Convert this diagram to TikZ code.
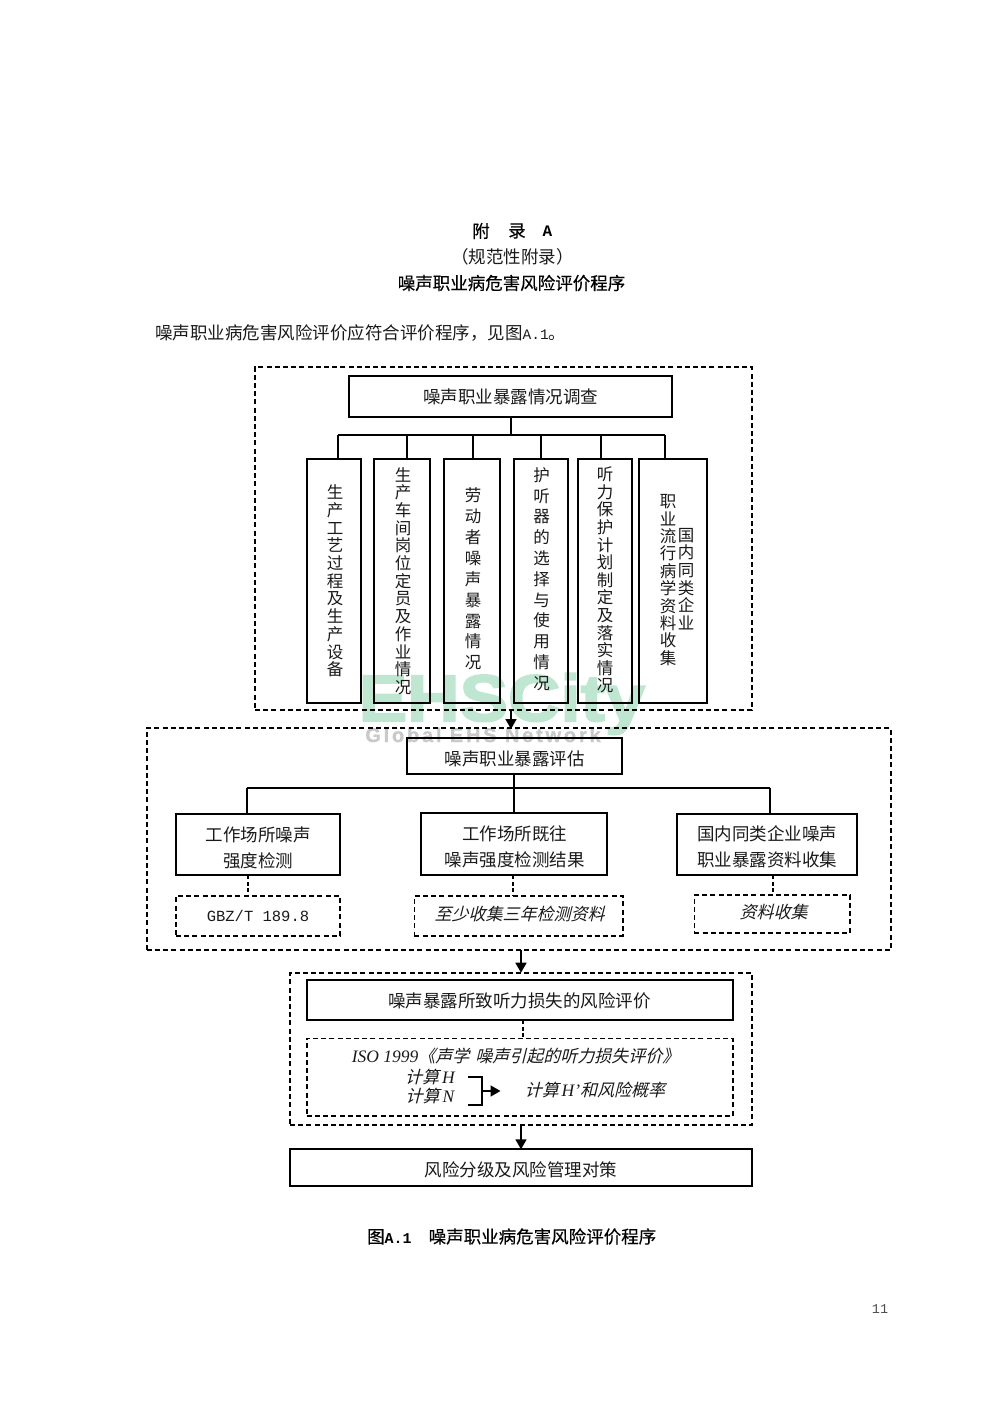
\documentclass[tikz,border=0pt]{standalone}
\usepackage{fontspec}
\usetikzlibrary{arrows.meta}
\setmainfont{Liberation Serif}
\newfontfamily\cjk{Noto Sans CJK SC}
\newfontfamily\cjkslant[FakeSlant=0.25]{Noto Sans CJK SC}
\newfontfamily\cjkbold[FakeBold=0.35]{Noto Sans CJK SC}
\newfontfamily\monof{Liberation Mono}
\newfontfamily\monob{Liberation Mono Bold}
\newfontfamily\markf[LetterSpace=14,FakeBold=1]{Liberation Sans Bold}
\newfontfamily\markg[FakeBold=2.5]{Liberation Sans Bold}
\definecolor{wmgreen}{HTML}{BFE6D0}
\definecolor{wmgrey}{HTML}{C9C9C9}
\definecolor{ink}{HTML}{1A1A1A}
\newcommand{\fs}[2]{\fontsize{#1}{#2}\selectfont}
\begin{document}
\begin{tikzpicture}[x=1pt,y=-1pt,
  box/.style={draw=black,line width=1.8pt,inner sep=0pt,anchor=center,align=center,text=ink,font={\cjk\fs{17.5}{26}}},
  dbox/.style={draw=black,line width=1.6pt,dash pattern=on 5pt off 3.2pt,inner sep=0pt,anchor=center,align=center},
  wire/.style={draw=black,line width=1.7pt},
  dwire/.style={draw=black,line width=1.7pt,dash pattern=on 4pt off 2.5pt},
  flow/.style={draw=black,line width=1.7pt,-{Triangle[length=10pt,width=11pt]}},
  label/.style={inner sep=0pt,anchor=center,align=center,text=ink,font={\cjk\fs{17.5}{26}}},
  slant/.style={inner sep=0pt,anchor=center,align=center,text=ink,font={\cjkslant\fs{17}{20}}},
  head/.style={inner sep=0pt,anchor=center,align=center,text=black,font={\cjkbold\fs{17.5}{20}}},
  vert/.style={inner sep=0pt,anchor=center,align=center,text=ink,font={\cjk\fs{16.5}{#1}}}
]
\useasboundingbox (0,0) rectangle (1000,1414);
\fill[white] (0,0) rectangle (1000,1414);

% watermark
\node[inner sep=0pt,anchor=base,text=wmgreen,xscale=1.1] (wma) at (502,721) {\markg\fs{66}{66}EHSCity};
\node[inner sep=0pt,anchor=base,text=wmgrey] (wmb) at (483,742) {\markf\fs{20}{20}Global EHS Network};

% headings
\node[head] (t1a) at (481,231) {附};
\node[head] (t1b) at (517,231) {录};
\node[inner sep=0pt,anchor=center,text=black] (t1c) at (547.5,231) {\monob\fs{16}{20}A};
\node[label] (t2) at (512.5,257) {\symbol{"FF08}规范性附录\symbol{"FF09}};
\node[head] (t3) at (511.5,283) {噪声职业病危害风险评价程序};
\node[label,anchor=west] (t4) at (155,333) {噪声职业病危害风险评价应符合评价程序\symbol{"FF0C}见图{\monof\fs{14.5}{20}A.1}。};

% dashed groups
\node[dbox,minimum width=496.7pt,minimum height=343.3pt] (g1) at (503.35,538.35) {};
\node[dbox,minimum width=744pt,minimum height=222pt] (g2) at (518.85,839) {};
\node[dbox,minimum width=461.7pt,minimum height=152.3pt] (g3) at (520.85,1048.85) {};

% survey
\node[box,minimum width=323.3pt,minimum height=40.7pt] (top) at (510.65,396.35) {};
\node[label] (topt) at (510.65,397) {噪声职业暴露情况调查};
\node[box,minimum width=54pt,minimum height=244.6pt] (s1) at (333.7,581) {};
\node[box,minimum width=56pt,minimum height=244pt] (s2) at (401.7,581.3) {};
\node[box,minimum width=55.4pt,minimum height=244pt] (s3) at (472,581.3) {};
\node[box,minimum width=54.3pt,minimum height=244pt] (s4) at (541.15,581.3) {};
\node[box,minimum width=53.4pt,minimum height=244pt] (s5) at (605,581.3) {};
\node[box,minimum width=68pt,minimum height=244pt] (s6) at (673.3,581.3) {};
\node[vert=17.7] (v1) at (335,581) {生\\产\\工\\艺\\过\\程\\及\\生\\产\\设\\备};
\node[vert=17.7] (v2) at (403,581) {生\\产\\车\\间\\岗\\位\\定\\员\\及\\作\\业\\情\\况};
\node[vert=20.9] (v3) at (473,579) {劳\\动\\者\\噪\\声\\暴\\露\\情\\况};
\node[vert=20.8] (v4) at (541.7,579) {护\\听\\器\\的\\选\\择\\与\\使\\用\\情\\况};
\node[vert=17.6] (v5) at (605,580) {听\\力\\保\\护\\计\\划\\制\\定\\及\\落\\实\\情\\况};
\node[vert=17.4] (v6a) at (668,580) {职\\业\\流\\行\\病\\学\\资\\料\\收\\集};
\node[vert=17.6] (v6b) at (686,579) {国\\内\\同\\类\\企\\业};
\coordinate (b1) at (338.3,435.3);
\coordinate (b6) at (665,435.3);
\coordinate (bm) at (top.south |- b1);
\draw[wire] (top.south) -- (bm);
\draw[wire] (b1) -- (b6);
\draw[wire] (b1) -- (b1 |- s1.north);
\draw[wire] (406.7,435.3) coordinate (b2) -- (b2 |- s2.north);
\draw[wire] (473,435.3) coordinate (b3) -- (b3 |- s3.north);
\draw[wire] (540.7,435.3) coordinate (b4) -- (b4 |- s4.north);
\draw[wire] (601,435.3) coordinate (b5) -- (b5 |- s5.north);
\draw[wire] (b6) -- (b6 |- s6.north);

% exposure assessment
\coordinate (a1o) at (511,710);
\coordinate (a1e) at (511,729);
\draw[flow] (a1o) -- (a1e);
\node[box,minimum width=215pt,minimum height=36.5pt] (ev) at (514.5,756) {};
\node[label] (evt) at (514.5,758.5) {噪声职业暴露评估};
\node[box,minimum width=164pt,minimum height=61.3pt] (e1) at (258,844.65) {};
\node[label] (e1t) at (258,847.5) {工作场所噪声\\强度检测};
\node[box,minimum width=185.7pt,minimum height=62pt] (e2) at (513.85,844.3) {};
\node[label] (e2t) at (514.5,847) {工作场所既往\\噪声强度检测结果};
\node[box,minimum width=180pt,minimum height=61.3pt] (e3) at (766.7,844.65) {};
\node[label] (e3t) at (767,847) {国内同类企业噪声\\职业暴露资料收集};
\coordinate (c1) at (246.7,788);
\coordinate (c3) at (770,788);
\coordinate (cm) at (514,788);
\draw[wire] (c1) -- (c3);
\draw[wire] (ev.south -| cm) -- (e2.north -| cm);
\draw[wire] (c1) -- (c1 |- e1.north);
\draw[wire] (c3) -- (c3 |- e3.north);
\node[dbox,minimum width=164pt,minimum height=39.7pt] (d1) at (258,915.85) {\monof\fs{15.5}{20}\color{ink}GBZ/T 189.8};
\node[dbox,minimum width=208.4pt,minimum height=39.7pt] (d2) at (518.5,915.85) {};
\node[slant] (d2t) at (519.5,913.5) {至少收集三年检测资料};
\node[dbox,minimum width=155.7pt,minimum height=37.7pt] (d3) at (772.15,913.85) {};
\node[slant] (d3t) at (773.5,912) {资料收集};
\coordinate (k1) at (248.3,875.3);
\coordinate (k2) at (513.3,875.3);
\coordinate (k3) at (773.3,875.3);
\draw[dwire] (k1) -- (k1 |- d1.north);
\draw[dwire] (k2) -- (k2 |- d2.north);
\draw[dwire] (k3) -- (k3 |- d3.north);

% hearing loss risk
\coordinate (a2o) at (521,950);
\coordinate (a2e) at (521,972.7);
\draw[flow] (a2o) -- (a2e);
\node[box,minimum width=426pt,minimum height=40pt] (r) at (519.7,1000) {};
\node[label] (rt) at (519.7,1000.7) {噪声暴露所致听力损失的风险评价};
\node[dbox,minimum width=426pt,minimum height=77.7pt] (m) at (519.7,1077.15) {};
\coordinate (j) at (523.3,1020);
\draw[dwire] (j) -- (j |- m.north);
\node[slant,text=ink] (m1) at (515.7,1056) {{\normalfont\itshape\fs{17.5}{20}ISO 1999}《声学\hspace{6pt}噪声引起的听力损失评价》};
\node[slant] (m2) at (430,1076.5) {计算{\normalfont\itshape\fs{17.5}{20}\,H}};
\node[slant] (m3) at (430,1096) {计算{\normalfont\itshape\fs{17.5}{20}\,N}};
\node[slant] (m4) at (595,1090) {计算{\normalfont\itshape\fs{17.5}{20}\,H'}和风险概率};
\coordinate (br1) at (468.3,1077.3);
\coordinate (br2) at (482.3,1105);
\coordinate (br3) at (468.3,1105);
\coordinate (brm) at (482.3,1091);
\coordinate (brt) at (500.5,1091);
\draw[wire] (br1) -| (br2) -- (br3);
\draw[flow] (brm) -- (brt);

% final
\node[box,minimum width=461.7pt,minimum height=36.7pt] (f) at (520.85,1167.65) {};
\node[label] (ft) at (520.85,1170) {风险分级及风险管理对策};
\coordinate (a3o) at (521,1125);
\coordinate (a3e) at (521,1149.3);
\draw[flow] (a3o) -- (a3e);

% caption and page number
\node[head,anchor=west] (cap) at (367,1236.5) {图{\monob\fs{15}{20}A.1}\hspace{17pt}噪声职业病危害风险评价程序};
\node[inner sep=0pt,anchor=center,text=black!70] (pg) at (880,1309.5) {\monof\fs{13.5}{16}11};
\end{tikzpicture}
\end{document}
